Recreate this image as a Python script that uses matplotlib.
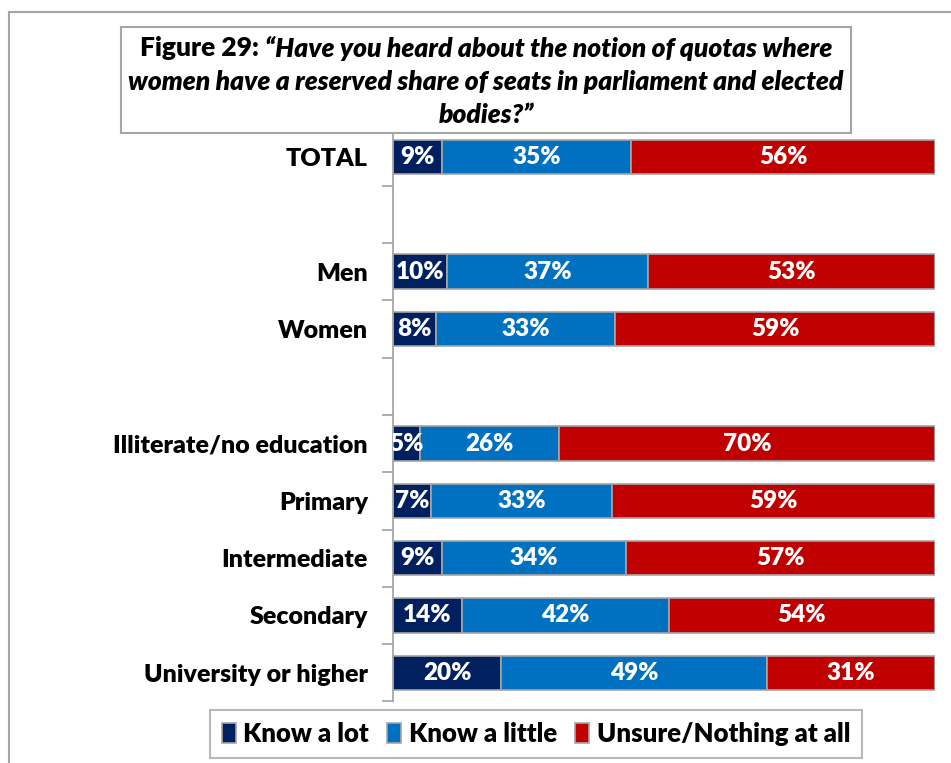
import matplotlib.pyplot as plt
import numpy as np
from matplotlib.patches import Rectangle
from matplotlib.lines import Line2D

plt.rcParams['font.family'] = ['Lato', 'DejaVu Sans']

# Survey answers per group (percent)
groups = ['TOTAL', 'Men', 'Women', 'Illiterate/no education', 'Primary',
          'Intermediate', 'Secondary', 'University or higher']
know_lot = [9, 10, 8, 5, 7, 9, 14, 20]
know_little = [35, 37, 33, 26, 33, 34, 42, 49]
unsure = [56, 53, 59, 70, 59, 57, 54, 31]
series_names = ['Know a lot', 'Know a little', 'Unsure/Nothing at all']
colors = ['#002060', '#0070C0', '#C00000']

# rows are spaced with blank slots between the three blocks
row_pos = np.array([0, 2, 3, 5, 6, 7, 8, 9])

fig = plt.figure(figsize=(9.51, 7.63), dpi=100)
ax = fig.add_axes([393 / 951, 1 - 701.4 / 763, 542 / 951, 573 / 763])

vals = np.array([know_lot, know_little, unsure], dtype=float)
shares = vals / vals.sum(axis=0)  # 100% stacked
left = np.zeros(len(groups))
for k in range(3):
    ax.barh(row_pos, shares[k], left=left, height=0.6, color=colors[k],
            edgecolor='#a6a6a6', linewidth=1.2, label=series_names[k])
    for y, l, w, v in zip(row_pos, left, shares[k], vals[k]):
        ax.text(l + w / 2, y, f"{int(v)}%", ha='center', va='center',
                color='white', fontsize=17.5, fontweight='heavy', clip_on=True)
    left += shares[k]

ax.set_xlim(0, 1)
ax.set_ylim(9.5, -0.5)
ax.set_xticks([])
ax.set_yticks(np.arange(-0.5, 10, 1))
ax.set_yticklabels([])
ax.set_yticks(row_pos, minor=True)
ax.set_yticklabels(groups, minor=True, fontsize=18, fontweight='heavy')
ax.tick_params(axis='y', which='minor', length=0, pad=18)
ax.tick_params(axis='y', which='major', length=8, color='#a0a0a0', width=1.2)
for s in ['top', 'right', 'bottom']:
    ax.spines[s].set_visible(False)
ax.spines['left'].set_color('#a0a0a0')
ax.spines['left'].set_linewidth(1.2)

# outer chart frame (left and top edges)
fig.add_artist(Line2D([8.5 / 951, 8.5 / 951], [1 - 12 / 763, 0], color='#a6a6a6',
                      lw=1.5, transform=fig.transFigure))
fig.add_artist(Line2D([8.5 / 951, 1], [1 - 12 / 763, 1 - 12 / 763], color='#a6a6a6',
                      lw=1.5, transform=fig.transFigure))

# title box
fig.add_artist(Rectangle((121 / 951, 1 - 133 / 763), 730 / 951, 106 / 763,
                         transform=fig.transFigure, facecolor='white',
                         edgecolor='#a6a6a6', lw=1.5))
cx = 486 / 951
tsize = 19
renderer = fig.canvas.get_renderer()
t1a = fig.text(0, 1 - 48 / 763, 'Figure 29: ', fontsize=tsize, fontweight='heavy',
               va='center', ha='left')
t1b = fig.text(0, 1 - 48 / 763, '\u201cHave you heard about the notion of quotas where',
               fontsize=tsize, fontweight='heavy', style='italic', va='center', ha='left')
wa = t1a.get_window_extent(renderer).width / 951
wb = t1b.get_window_extent(renderer).width / 951
x0 = cx - (wa + wb) / 2
t1a.set_x(x0)
t1b.set_x(x0 + wa)
fig.text(cx, 1 - 82 / 763, 'women have a reserved share of seats in parliament and elected',
         fontsize=tsize, fontweight='heavy', style='italic', va='center', ha='center')
fig.text(cx, 1 - 115 / 763, 'bodies?\u201d', fontsize=tsize, fontweight='heavy',
         style='italic', va='center', ha='center')

leg = fig.legend(loc='center', bbox_to_anchor=(536 / 951, 1 - 734 / 763), ncol=3,
                 prop={'weight': 'heavy', 'size': 18.5}, frameon=True,
                 fancybox=False, edgecolor='#a6a6a6', handlelength=0.55,
                 handleheight=0.8, handletextpad=0.3, columnspacing=0.7,
                 borderpad=0.45)
leg.get_frame().set_linewidth(1.5)

fig.savefig('out.png', dpi=100)
